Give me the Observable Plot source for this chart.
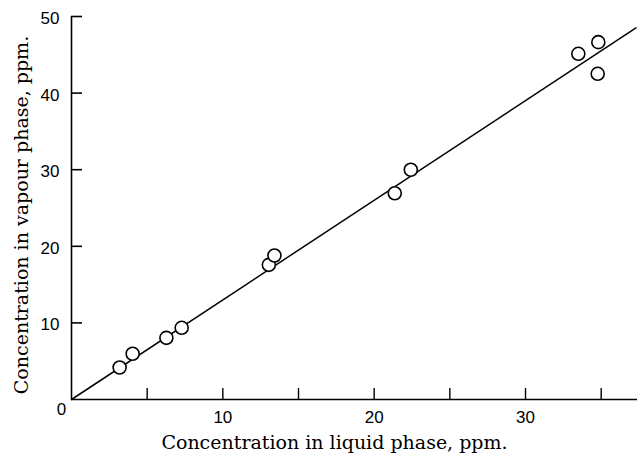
<!DOCTYPE html>
<html>
<head>
<meta charset="utf-8">
<script src="https://cdn.jsdelivr.net/npm/d3@7"></script>
<script src="https://cdn.jsdelivr.net/npm/@observablehq/plot@0.6"></script>
<style>
  html, body { margin: 0; padding: 0; background: #fff; }
  svg { display: block; }
</style>
</head>
<body>
<div id="chart"></div>
<script>
// Observed points: concentration in liquid phase (x) vs vapour phase (y), ppm
const liquid = [3.18, 4.04, 6.27, 7.28, 13.04, 13.41, 21.36, 22.42, 33.49, 34.81, 34.77];
const vapour = [4.18, 5.97, 8.05, 9.36, 17.58, 18.80, 26.93, 29.99, 45.13, 46.65, 42.52];

// Fitted line end points
const fitX = [0, 37.3];
const fitY = [0, 48.5];

// Axis ticks and labels
const xTicks = [5, 10, 15, 20, 25, 30, 35];
const xLabels = [10, 20, 30];
const yTicks = [10, 20, 30, 40, 50];
const xTitle = "Concentration in liquid phase, ppm.";
const yTitle = "Concentration in vapour phase, ppm.";

const points = liquid.map((x, i) => ({x, y: vapour[i]}));
const fit = fitX.map((x, i) => ({x, y: fitY[i]}));

const W = 637, ML = 71, TICK = 11;

const chart = Plot.plot({
  width: W,
  height: 460,
  marginLeft: ML,
  marginRight: 0,
  marginTop: 16,
  marginBottom: 61,
  style: {fontFamily: "Liberation Sans", fontSize: "17px", color: "#000", background: "#fff", overflow: "visible"},
  x: {domain: [0, 37.4], axis: null},
  y: {domain: [0, 50], axis: null},
  marks: [
    Plot.axisX({ticks: xLabels, tickSize: 0, tickPadding: 11, label: null, fontSize: 17}),
    Plot.axisX({ticks: [0], tickSize: 0, tickPadding: 3, dx: -10, label: null, fontSize: 17}),
    Plot.axisY({ticks: yTicks, tickSize: 0, tickPadding: 12, dy: 2, label: null, fontSize: 17}),
    Plot.text([xTitle], {frameAnchor: "bottom", textAnchor: "middle", dx: -20, dy: 49, text: d => d, fontFamily: "DejaVu Serif", fontSize: 19}),
    Plot.text([yTitle], {frameAnchor: "left", textAnchor: "middle", dx: -50, dy: 7, rotate: -90, text: d => d, fontFamily: "DejaVu Serif", fontSize: 19}),
    Plot.line(fit, {x: "x", y: "y", stroke: "#000", strokeWidth: 1.5}),
    Plot.dot(points, {x: "x", y: "y", r: 6.5, stroke: "#000", strokeWidth: 1.6, fill: "#fff"}),
    Plot.axisX({ticks: xTicks, tickSize: -11, tickFormat: () => "", label: null, strokeWidth: 1.4}),
    Plot.ruleX([0], {stroke: "#000", strokeWidth: 1.6}),
    Plot.ruleY([0], {stroke: "#000", strokeWidth: 1.6}),
    Plot.tickY(yTicks, {y: d => d, insetRight: W - ML - TICK, stroke: "#000", strokeWidth: 1.6})
  ]
});
document.getElementById("chart").append(chart);
</script>
</body>
</html>
